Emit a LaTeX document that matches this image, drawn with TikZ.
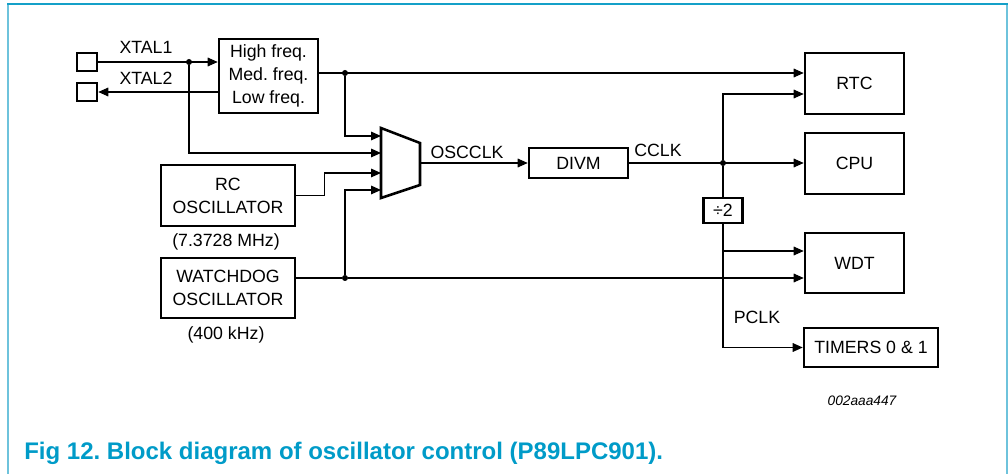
\documentclass[tikz,border=0pt]{standalone}
\usepackage{fontspec}
\setmainfont{Liberation Sans}
\usetikzlibrary{arrows.meta}
\definecolor{captionblue}{RGB}{0,155,200}
\definecolor{frametop}{RGB}{20,160,200}
\definecolor{frameside}{RGB}{110,195,220}
\newcommand\diagfont{\fontsize{13.3}{17.25}\selectfont}
\frenchspacing
\begin{document}
\frenchspacing
\begin{tikzpicture}[x=0.75pt,y=-0.75pt,
  box/.style={draw,line width=1.9pt,inner sep=0pt,align=center,font=\diagfont},
  conn/.style={line width=0.85pt},
  arr/.style={conn,-{Triangle[length=7.5pt,width=6.5pt]}},
  dot/.style={circle,fill,inner sep=0pt,minimum size=4.5pt},
  lbl/.style={font=\diagfont,inner sep=0pt}]
\useasboundingbox (0,0) rectangle (1008,474);
% frame
\draw[frameside,line width=1.5pt] (8,4) -- (8,474);
\draw[frameside,line width=1.5pt] (1007,4) -- (1007,474);
\draw[frametop,line width=1.5pt] (7,4) -- (1008,4);
% boxes
\node[draw,line width=1.9pt,minimum width=15pt,minimum height=13.5pt,inner sep=0pt] (sq1) at (87,62) {};
\node[draw,line width=1.9pt,minimum width=15pt,minimum height=13.5pt,inner sep=0pt] (sq2) at (87,92) {};
\node[box,minimum width=74.25pt,minimum height=55.5pt] (osc) at (268.5,76) {High freq.\\Med. freq.\\Low freq.};
\node[box,minimum width=74.25pt,minimum height=45.75pt] (rtc) at (854.5,83.5) {RTC};
\node[box,minimum width=74.25pt,minimum height=45.75pt] (cpu) at (854.5,163.5) {CPU};
\node[box,minimum width=74.25pt,minimum height=45pt] (wdt) at (854.5,263) {WDT};
\node[box,minimum width=100.5pt,minimum height=29.25pt] (timers) at (871,347.5) {TIMERS 0 \& 1};
\node[box,minimum width=29.25pt,minimum height=18.75pt] (div2) at (723,210.5) {÷2};
\node[box,minimum width=74.25pt,minimum height=22.5pt] (divm) at (578.5,163) {DIVM};
\node[box,minimum width=100.5pt,minimum height=45.75pt] (rc) at (228,195.5) {RC\\OSCILLATOR};
\node[box,minimum width=100.5pt,minimum height=45pt] (wd) at (228,288) {WATCHDOG\\OSCILLATOR};
% mux
\draw[line width=1.9pt,line join=miter] (381,128) -- (420,143) -- (420,185) -- (381,198) -- cycle;
\coordinate (mi1) at (381,136);
\coordinate (mi2) at (381,153);
\coordinate (mi3) at (381,173);
\coordinate (mi4) at (381,190);
\coordinate (muxo) at (420,163);
% labels
\node[lbl] (lx1) at (146,47) {XTAL1};
\node[lbl] (lx2) at (146,78) {XTAL2};
\node[lbl] (losc) at (467,152) {OSCCLK};
\node[lbl] (lcclk) at (658,150) {CCLK};
\node[lbl] (lrcf) at (226,242) {(7.3728 MHz)};
\node[lbl] (lwdf) at (226,335) {(400 kHz)};
\node[lbl] (lpclk) at (757,317) {PCLK};
\node[inner sep=0pt,font=\fontsize{10.3}{12}\selectfont\itshape] (lid) at (862,401) {002aaa447};
\node[anchor=base west,inner sep=0pt,text=captionblue,font=\fontsize{18}{20}\selectfont\bfseries] (cap) at (24,459) {Fig 12. Block diagram of oscillator control (P89LPC901).};
% junctions
\node[dot] (j1) at (189,62) {};
\node[dot] (j2) at (345,73) {};
\node[dot] (j3) at (345,278) {};
\node[dot] (j4) at (723,163) {};
\coordinate (t1) at (723,94);
\coordinate (t2) at (723,251);
% connectors
\draw[arr] (sq1.east) -- (osc.west |- sq1.east);
\draw[arr] (osc.west |- sq2.east) -- (sq2.east);
\draw[arr] (j1) -- (j1 |- mi2) -- (mi2);
\draw[arr] (osc.east |- j2) -- (rtc.west |- j2);
\draw[arr] (j2) -- (j2 |- mi1) -- (mi1);
\draw[arr] (rc.east) -- ++(28,0) |- (mi3);
\draw[conn] (wd.east |- j3) -- (j3);
\draw[arr] (j3) -- (wdt.west |- j3);
\draw[arr] (j3) -- (j3 |- mi4) -- (mi4);
\draw[arr] (muxo) -- (divm.west);
\draw[arr] (divm.east) -- (cpu.west |- divm.east);
\draw[arr] (j4) -- (t1) -- (rtc.west |- t1);
\draw[conn] (j4) -- (div2.north);
\draw[arr] (div2.south) -- (div2.south |- timers.west) -- (timers.west);
\draw[arr] (t2) -- (wdt.west |- t2);
\end{tikzpicture}
\end{document}
